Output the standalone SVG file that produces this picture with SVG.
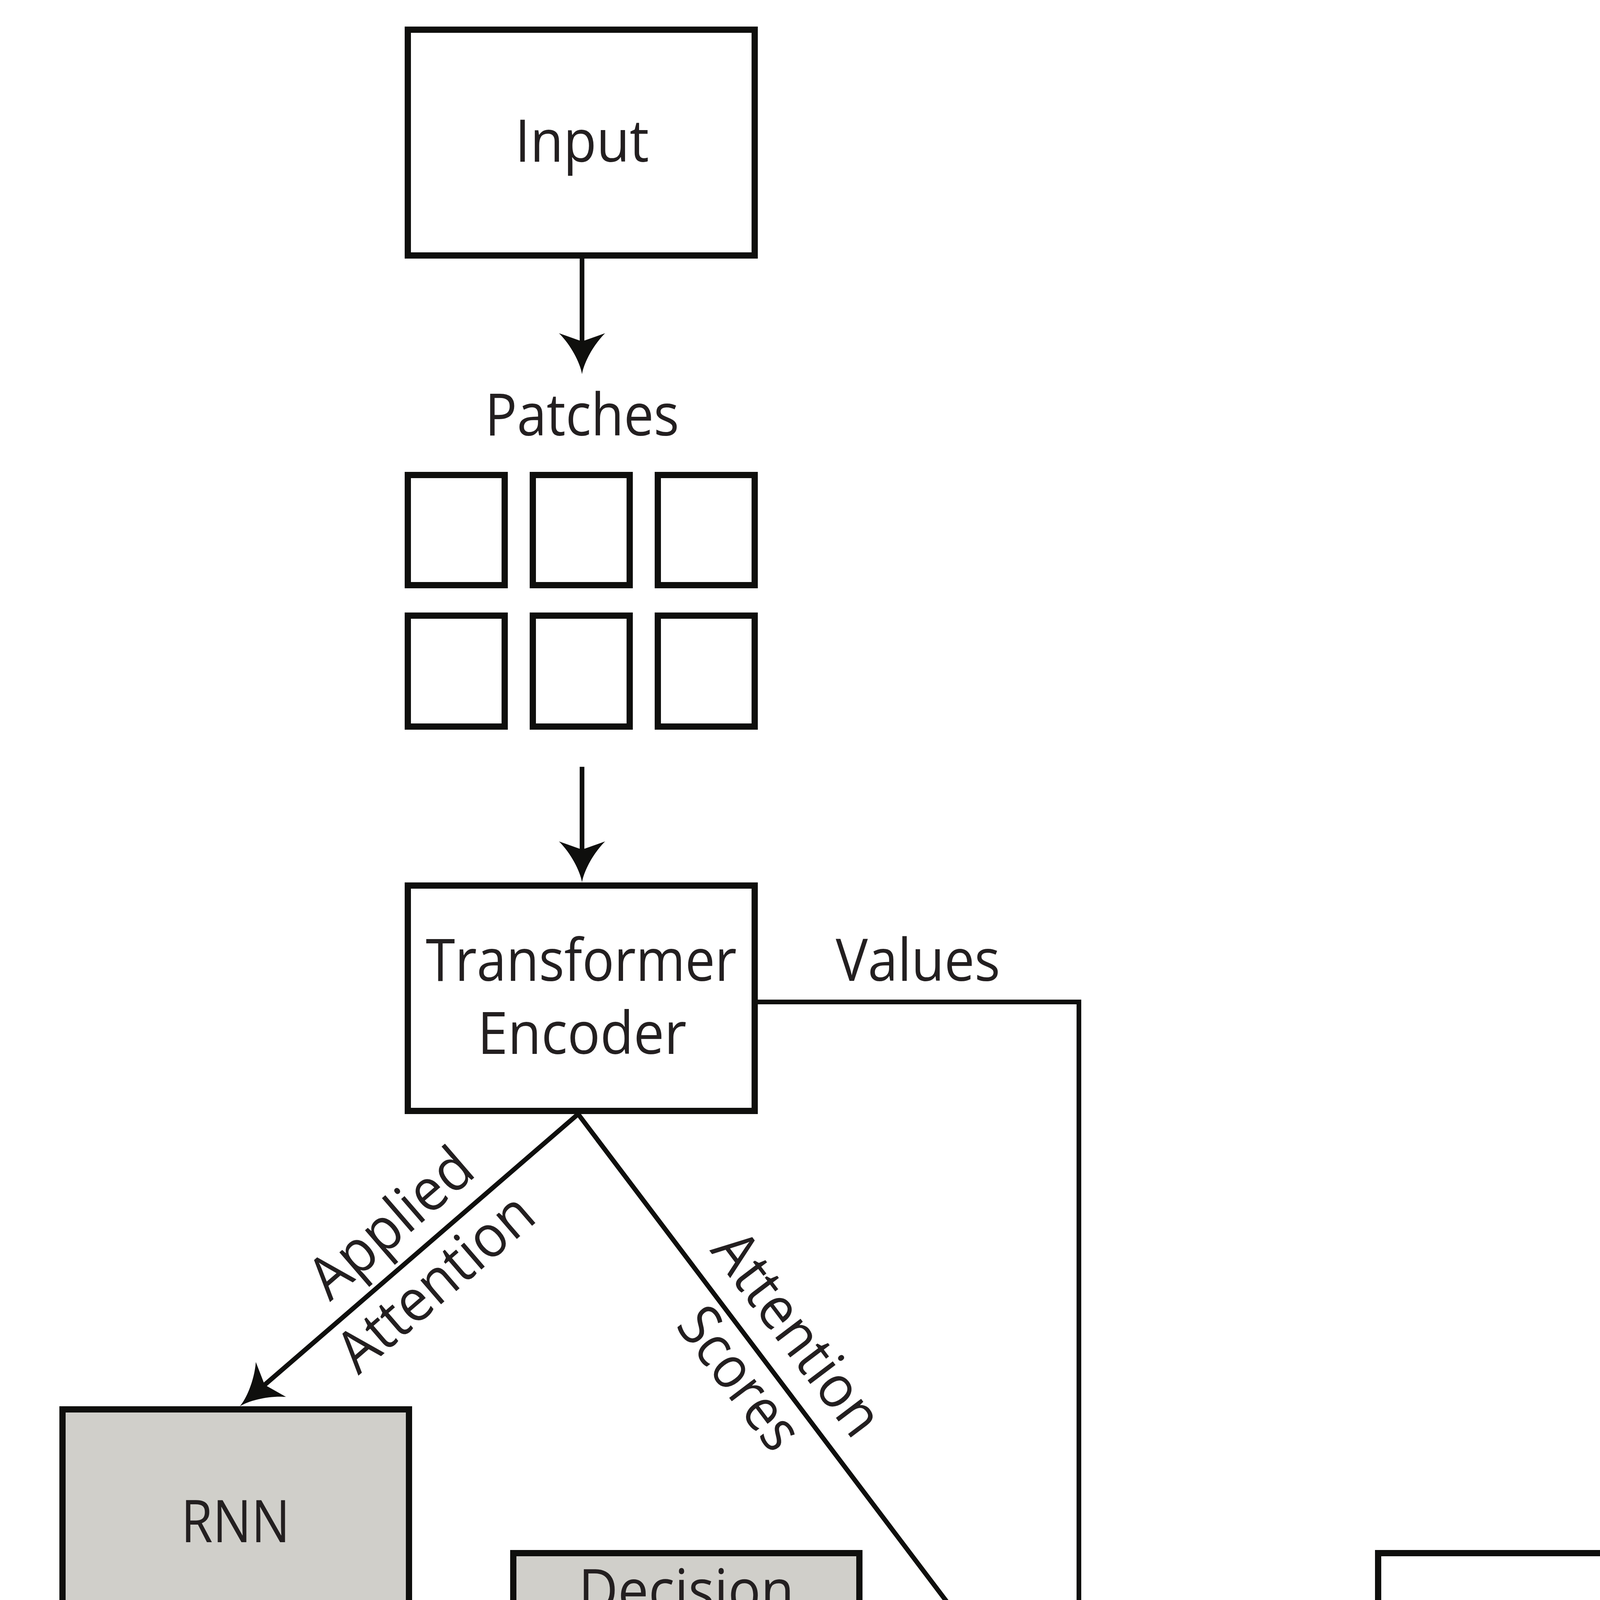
<svg xmlns="http://www.w3.org/2000/svg" width="4903" height="6421" viewBox="0 0 4903 6421">
<style>
.box{fill:#ffffff;stroke:#0f0f0d;stroke-width:16}
.gray{fill:#d0cfca}
.t{font-family:"Open Sans","Noto Sans","Liberation Sans",sans-serif;font-size:151px;fill:#231f20;text-anchor:middle}
.c{fill:none;stroke:#0f0f0d;stroke-width:12}
.a{marker-end:url(#ah)}
</style>
<defs>
<marker id="ah" markerUnits="userSpaceOnUse" viewBox="-70 -64 115 128" refX="0" refY="0" markerWidth="115" markerHeight="128" orient="auto">
<path d="M40,0 C10,-5 -35,-29 -65,-59 L-44,0 L-65,59 C-35,29 10,5 40,0 Z" fill="#0f0f0d"/>
</marker>
</defs>
<rect x="0" y="0" width="4903" height="6421" fill="#ffffff"/>

<g id="connectors">
<path class="c a" d="M1490,662 V918"/>
<path class="c a" d="M1490,1963 V2219"/>
<path class="c a" d="M1940,2565 H2762 V4226"/>
<path class="c a" d="M1480,2852 L2524.9,4234.1"/>
<path class="c a" d="M1480,2852 L644.3,3573.9"/>
<path class="c a" d="M2208,4272 H3480"/>
<path class="c a" d="M604,4192 V4708"/>
<path class="c a" d="M605,4307 C715,4443 1017,4509 1265,4484"/>
<path class="c a" d="M604,5358 V5625"/>
<path class="c a" d="M3972,4562 V5629"/>
</g>

<g id="input">
<rect class="box" x="1044" y="76" width="888" height="578"/>
<text class="t" x="1490" y="414" textLength="343" lengthAdjust="spacingAndGlyphs">Input</text>
</g>

<g id="patches">
<text class="t" x="1490" y="1115" textLength="497" lengthAdjust="spacingAndGlyphs">Patches</text>
<rect class="box" x="1044" y="1216" width="248" height="282"/>
<rect class="box" x="1364" y="1216" width="248" height="282"/>
<rect class="box" x="1684" y="1216" width="248" height="282"/>
<rect class="box" x="1044" y="1576" width="248" height="284"/>
<rect class="box" x="1364" y="1576" width="248" height="284"/>
<rect class="box" x="1684" y="1576" width="248" height="284"/>
</g>

<g id="transformer">
<rect class="box" x="1044" y="2267" width="888" height="577"/>
<text class="t" x="1488" y="2511" textLength="796" lengthAdjust="spacingAndGlyphs">Transformer</text>
<text class="t" x="1490" y="2698" textLength="535" lengthAdjust="spacingAndGlyphs">Encoder</text>
</g>

<g id="label-values">
<text class="t" x="2350" y="2511" textLength="421" lengthAdjust="spacingAndGlyphs">Values</text>
</g>

<g id="label-applied-attention" transform="translate(1063.5,3212) rotate(-40.8)">
<text class="t" x="5" y="-51" textLength="500" lengthAdjust="spacingAndGlyphs">Applied</text>
<text class="t" x="-8" y="139" textLength="610" lengthAdjust="spacingAndGlyphs">Attention</text>
</g>

<g id="label-attention-scores" transform="translate(1954,3480) rotate(52.9)">
<text class="t" x="0" y="-58" textLength="612" lengthAdjust="spacingAndGlyphs">Attention</text>
<text class="t" x="2" y="129" textLength="415" lengthAdjust="spacingAndGlyphs">Scores</text>
</g>

<g id="rnn">
<rect class="box gray" x="160" y="3608" width="887" height="576"/>
<text class="t" x="603" y="3948" textLength="279" lengthAdjust="spacingAndGlyphs">RNN</text>
</g>

<g id="label-rout" transform="translate(554,4432) rotate(-90)">
<text class="t" x="0" y="0" textLength="329" lengthAdjust="spacingAndGlyphs">R out</text>
</g>

<g id="decision">
<rect class="box gray" x="1314" y="3976" width="886" height="578"/>
<text class="t" x="1757" y="4125" textLength="552" lengthAdjust="spacingAndGlyphs">Decision</text>
<text class="t" x="1757" y="4315" textLength="477" lengthAdjust="spacingAndGlyphs">Control</text>
<text class="t" x="1757" y="4504" textLength="404" lengthAdjust="spacingAndGlyphs">Layers</text>
</g>

<g id="label-final">
<text class="t" x="3078" y="4433" textLength="294" lengthAdjust="spacingAndGlyphs">Final</text>
<text class="t" x="3078" y="4622" textLength="505" lengthAdjust="spacingAndGlyphs">Applied</text>
<text class="t" x="3078" y="4812" textLength="620" lengthAdjust="spacingAndGlyphs">Attention</text>
</g>

<g id="mlp">
<rect class="box" x="3528" y="3976" width="888" height="578"/>
<text class="t" x="3972" y="4218" textLength="275" lengthAdjust="spacingAndGlyphs">MLP</text>
<text class="t" x="3972" y="4410" textLength="334" lengthAdjust="spacingAndGlyphs">Head</text>
</g>

<g id="predictive">
<rect class="box gray" x="160" y="4774" width="887" height="576"/>
<text class="t" x="605" y="5015" textLength="639" lengthAdjust="spacingAndGlyphs">Predictive</text>
<text class="t" x="605" y="5205" textLength="402" lengthAdjust="spacingAndGlyphs">Layers</text>
</g>

<g id="predicted-output">
<text class="t" x="608" y="5829" textLength="613" lengthAdjust="spacingAndGlyphs">Predicted</text>
<text class="t" x="608" y="6019" textLength="618" lengthAdjust="spacingAndGlyphs">Attention</text>
<text class="t" x="608" y="6206" textLength="590" lengthAdjust="spacingAndGlyphs">(Applied)</text>
</g>

<g id="task-output">
<text class="t" x="3972" y="5833" textLength="793" lengthAdjust="spacingAndGlyphs">Task Output</text>
<text class="t" x="3972" y="6022" textLength="1628" lengthAdjust="spacingAndGlyphs">(e.g. image classification)</text>
</g>
</svg>
